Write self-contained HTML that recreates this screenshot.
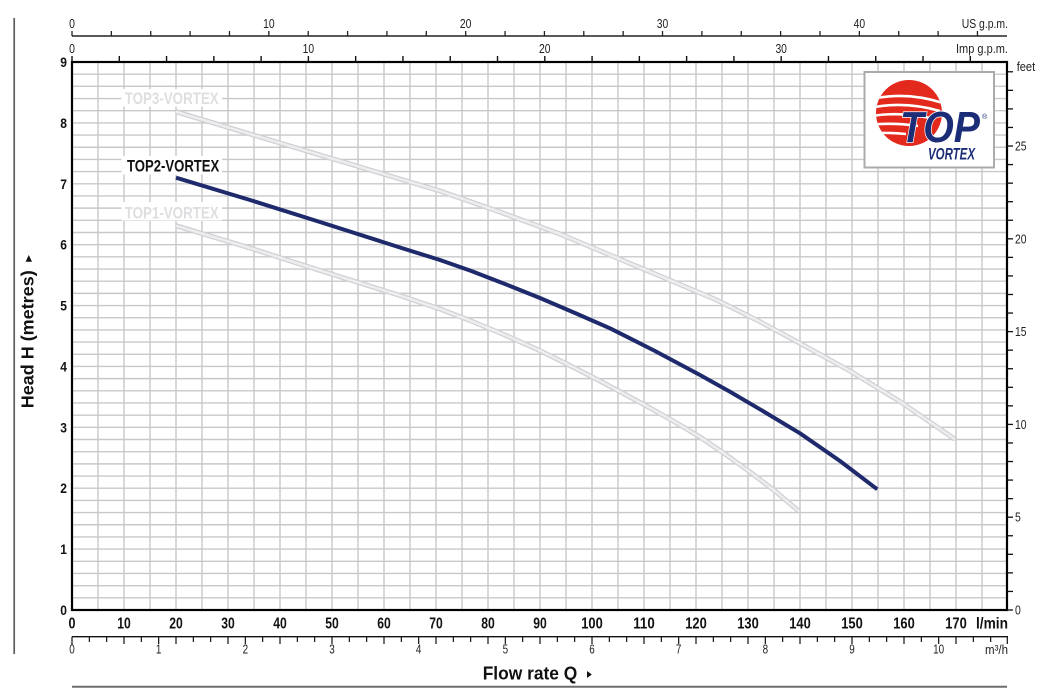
<!DOCTYPE html>
<html>
<head>
<meta charset="utf-8">
<style>
html,body{margin:0;padding:0;background:#fff;}
svg{display:block;}
text{font-family:"Liberation Sans",sans-serif;}
</style>
</head>
<body>
<svg width="1051" height="698" viewBox="0 0 1051 698" xmlns="http://www.w3.org/2000/svg">
<rect width="1051" height="698" fill="#fff"/>

<!-- left gray bar -->
<line x1="14.2" y1="18" x2="14.2" y2="654" stroke="#5e5e5e" stroke-width="1.7"/>

<!-- grid -->
<g stroke="#c8c8c8" stroke-width="1.4">
<line x1="98" y1="62" x2="98" y2="610"/><line x1="124" y1="62" x2="124" y2="610"/><line x1="150" y1="62" x2="150" y2="610"/><line x1="176" y1="62" x2="176" y2="610"/><line x1="202" y1="62" x2="202" y2="610"/><line x1="228" y1="62" x2="228" y2="610"/><line x1="254" y1="62" x2="254" y2="610"/><line x1="280" y1="62" x2="280" y2="610"/><line x1="306" y1="62" x2="306" y2="610"/><line x1="332" y1="62" x2="332" y2="610"/><line x1="358" y1="62" x2="358" y2="610"/><line x1="384" y1="62" x2="384" y2="610"/><line x1="410" y1="62" x2="410" y2="610"/><line x1="436" y1="62" x2="436" y2="610"/><line x1="462" y1="62" x2="462" y2="610"/><line x1="488" y1="62" x2="488" y2="610"/><line x1="514" y1="62" x2="514" y2="610"/><line x1="540" y1="62" x2="540" y2="610"/><line x1="566" y1="62" x2="566" y2="610"/><line x1="592" y1="62" x2="592" y2="610"/><line x1="618" y1="62" x2="618" y2="610"/><line x1="644" y1="62" x2="644" y2="610"/><line x1="670" y1="62" x2="670" y2="610"/><line x1="696" y1="62" x2="696" y2="610"/><line x1="722" y1="62" x2="722" y2="610"/><line x1="748" y1="62" x2="748" y2="610"/><line x1="774" y1="62" x2="774" y2="610"/><line x1="800" y1="62" x2="800" y2="610"/><line x1="826" y1="62" x2="826" y2="610"/><line x1="852" y1="62" x2="852" y2="610"/><line x1="878" y1="62" x2="878" y2="610"/><line x1="904" y1="62" x2="904" y2="610"/><line x1="930" y1="62" x2="930" y2="610"/><line x1="956" y1="62" x2="956" y2="610"/><line x1="982" y1="62" x2="982" y2="610"/>
<line x1="72" y1="597.82" x2="1007" y2="597.82"/><line x1="72" y1="585.64" x2="1007" y2="585.64"/><line x1="72" y1="573.47" x2="1007" y2="573.47"/><line x1="72" y1="561.29" x2="1007" y2="561.29"/><line x1="72" y1="549.11" x2="1007" y2="549.11"/><line x1="72" y1="536.93" x2="1007" y2="536.93"/><line x1="72" y1="524.76" x2="1007" y2="524.76"/><line x1="72" y1="512.58" x2="1007" y2="512.58"/><line x1="72" y1="500.40" x2="1007" y2="500.40"/><line x1="72" y1="488.22" x2="1007" y2="488.22"/><line x1="72" y1="476.04" x2="1007" y2="476.04"/><line x1="72" y1="463.87" x2="1007" y2="463.87"/><line x1="72" y1="451.69" x2="1007" y2="451.69"/><line x1="72" y1="439.51" x2="1007" y2="439.51"/><line x1="72" y1="427.33" x2="1007" y2="427.33"/><line x1="72" y1="415.16" x2="1007" y2="415.16"/><line x1="72" y1="402.98" x2="1007" y2="402.98"/><line x1="72" y1="390.80" x2="1007" y2="390.80"/><line x1="72" y1="378.62" x2="1007" y2="378.62"/><line x1="72" y1="366.44" x2="1007" y2="366.44"/><line x1="72" y1="354.27" x2="1007" y2="354.27"/><line x1="72" y1="342.09" x2="1007" y2="342.09"/><line x1="72" y1="329.91" x2="1007" y2="329.91"/><line x1="72" y1="317.73" x2="1007" y2="317.73"/><line x1="72" y1="305.56" x2="1007" y2="305.56"/><line x1="72" y1="293.38" x2="1007" y2="293.38"/><line x1="72" y1="281.20" x2="1007" y2="281.20"/><line x1="72" y1="269.02" x2="1007" y2="269.02"/><line x1="72" y1="256.84" x2="1007" y2="256.84"/><line x1="72" y1="244.67" x2="1007" y2="244.67"/><line x1="72" y1="232.49" x2="1007" y2="232.49"/><line x1="72" y1="220.31" x2="1007" y2="220.31"/><line x1="72" y1="208.13" x2="1007" y2="208.13"/><line x1="72" y1="195.96" x2="1007" y2="195.96"/><line x1="72" y1="183.78" x2="1007" y2="183.78"/><line x1="72" y1="171.60" x2="1007" y2="171.60"/><line x1="72" y1="159.42" x2="1007" y2="159.42"/><line x1="72" y1="147.24" x2="1007" y2="147.24"/><line x1="72" y1="135.07" x2="1007" y2="135.07"/><line x1="72" y1="122.89" x2="1007" y2="122.89"/><line x1="72" y1="110.71" x2="1007" y2="110.71"/><line x1="72" y1="98.53" x2="1007" y2="98.53"/><line x1="72" y1="86.36" x2="1007" y2="86.36"/><line x1="72" y1="74.18" x2="1007" y2="74.18"/>
</g>

<!-- label backgrounds -->
<rect x="121.5" y="89" width="100.5" height="17.5" fill="#fff"/>
<rect x="121.5" y="156" width="100.5" height="18.5" fill="#fff"/>
<rect x="121.5" y="202" width="100.5" height="18.5" fill="#fff"/>

<!-- curve labels -->
<text x="124.7" y="104" font-size="17" font-weight="bold" fill="#dedee0" textLength="94" lengthAdjust="spacingAndGlyphs">TOP3-VORTEX</text>
<text x="127" y="171.7" font-size="17" font-weight="bold" fill="#111" textLength="92.3" lengthAdjust="spacingAndGlyphs">TOP2-VORTEX</text>
<text x="124.7" y="218.3" font-size="17" font-weight="bold" fill="#dedee0" textLength="94" lengthAdjust="spacingAndGlyphs">TOP1-VORTEX</text>

<!-- curves -->
<g fill="none" stroke-linejoin="round">
<polyline stroke="#cfcfd4" stroke-width="5" points="176,111.7 270,140 370,170 440,191 500,212 560,234 610,255 660,276 716.7,300 760,321.7 800,343.3 850,371 900,401.5 955,439.3"/>
<polyline stroke="#ededf0" stroke-width="2.6" points="176,111.7 270,140 370,170 440,191 500,212 560,234 610,255 660,276 716.7,300 760,321.7 800,343.3 850,371 900,401.5 955,439.3"/>
<polyline stroke="#cfcfd4" stroke-width="5" points="176,225.7 250,248 320,270.5 400,295.5 440,309 470,320.5 505,335 540,350.7 570,365.5 600,381 643,404 675,422 700,437 725,454 750,472 775,491 798.3,510.7"/>
<polyline stroke="#ededf0" stroke-width="2.6" points="176,225.7 250,248 320,270.5 400,295.5 440,309 470,320.5 505,335 540,350.7 570,365.5 600,381 643,404 675,422 700,437 725,454 750,472 775,491 798.3,510.7"/>
<polyline stroke="#1e2a6b" stroke-width="4" points="176,177.7 250,200 320,222 400,247.5 440,260 470,270.5 505,284 540,298 575,313 610,328.3 655,351 700,375 730,391.8 760,409.3 800,433.3 840,461 877.3,489.3"/>
</g>

<!-- logo -->
<rect x="864.5" y="72" width="129.5" height="95.5" fill="#fff" stroke="#ababab" stroke-width="2"/>
<defs><clipPath id="cc"><circle cx="909" cy="113" r="33"/></clipPath></defs>
<circle cx="909" cy="113" r="33" fill="#e3281c"/>
<g clip-path="url(#cc)" fill="none" stroke="#fff" stroke-width="2.6">
<path d="M872,99 Q908,91 946,104"/>
<path d="M872,107.5 Q905,101 940,111"/>
<path d="M872,116 Q900,111.5 930,118"/>
<path d="M873,124.5 Q895,122.5 918,126"/>
<path d="M874,133 Q890,132.5 906,134"/>
</g>
<text x="900" y="142" font-size="44" font-weight="bold" font-style="italic" fill="#1c2d78" stroke="#fff" stroke-width="1.5" paint-order="stroke" textLength="80" lengthAdjust="spacingAndGlyphs">TOP</text>
<text x="928" y="159.7" font-size="17" font-weight="bold" font-style="italic" fill="#1c2d78" textLength="47" lengthAdjust="spacingAndGlyphs">VORTEX</text>
<text x="982" y="119" font-size="7" fill="#1c2d78">®</text>

<!-- plot border -->
<rect x="72" y="62" width="935" height="548" fill="none" stroke="#000" stroke-width="2.2"/>

<!-- top US gpm axis -->
<line x1="72" y1="36" x2="1007" y2="36" stroke="#222" stroke-width="1.4"/>
<g stroke="#222" stroke-width="1.3">
<line x1="72" y1="36" x2="72" y2="31"/><line x1="111.37" y1="36" x2="111.37" y2="31"/><line x1="150.74" y1="36" x2="150.74" y2="31"/><line x1="190.10" y1="36" x2="190.10" y2="31"/><line x1="229.47" y1="36" x2="229.47" y2="31"/><line x1="268.84" y1="36" x2="268.84" y2="31"/><line x1="308.21" y1="36" x2="308.21" y2="31"/><line x1="347.58" y1="36" x2="347.58" y2="31"/><line x1="386.94" y1="36" x2="386.94" y2="31"/><line x1="426.31" y1="36" x2="426.31" y2="31"/><line x1="465.68" y1="36" x2="465.68" y2="31"/><line x1="505.05" y1="36" x2="505.05" y2="31"/><line x1="544.42" y1="36" x2="544.42" y2="31"/><line x1="583.78" y1="36" x2="583.78" y2="31"/><line x1="623.15" y1="36" x2="623.15" y2="31"/><line x1="662.52" y1="36" x2="662.52" y2="31"/><line x1="701.89" y1="36" x2="701.89" y2="31"/><line x1="741.26" y1="36" x2="741.26" y2="31"/><line x1="780.62" y1="36" x2="780.62" y2="31"/><line x1="819.99" y1="36" x2="819.99" y2="31"/><line x1="859.36" y1="36" x2="859.36" y2="31"/><line x1="898.73" y1="36" x2="898.73" y2="31"/><line x1="938.10" y1="36" x2="938.10" y2="31"/><line x1="977.46" y1="36" x2="977.46" y2="31"/>
</g>
<g font-size="13" fill="#222" text-anchor="middle">
<text x="72" y="28" textLength="5.8" lengthAdjust="spacingAndGlyphs">0</text>
<text x="268.84" y="28" textLength="11.5" lengthAdjust="spacingAndGlyphs">10</text>
<text x="465.68" y="28" textLength="11.5" lengthAdjust="spacingAndGlyphs">20</text>
<text x="662.52" y="28" textLength="11.5" lengthAdjust="spacingAndGlyphs">30</text>
<text x="859.36" y="28" textLength="11.5" lengthAdjust="spacingAndGlyphs">40</text>
</g>
<text x="961.7" y="28" font-size="13" fill="#222" textLength="46.3" lengthAdjust="spacingAndGlyphs">US g.p.m.</text>

<!-- Imp gpm ticks on top border -->
<g stroke="#111" stroke-width="1.4">
<line x1="72" y1="62" x2="72" y2="56"/><line x1="119.28" y1="62" x2="119.28" y2="56"/><line x1="166.56" y1="62" x2="166.56" y2="56"/><line x1="213.84" y1="62" x2="213.84" y2="56"/><line x1="261.12" y1="62" x2="261.12" y2="56"/><line x1="308.40" y1="62" x2="308.40" y2="56"/><line x1="355.67" y1="62" x2="355.67" y2="56"/><line x1="402.95" y1="62" x2="402.95" y2="56"/><line x1="450.23" y1="62" x2="450.23" y2="56"/><line x1="497.51" y1="62" x2="497.51" y2="56"/><line x1="544.79" y1="62" x2="544.79" y2="56"/><line x1="592.07" y1="62" x2="592.07" y2="56"/><line x1="639.35" y1="62" x2="639.35" y2="56"/><line x1="686.63" y1="62" x2="686.63" y2="56"/><line x1="733.91" y1="62" x2="733.91" y2="56"/><line x1="781.19" y1="62" x2="781.19" y2="56"/><line x1="828.47" y1="62" x2="828.47" y2="56"/><line x1="875.74" y1="62" x2="875.74" y2="56"/><line x1="923.02" y1="62" x2="923.02" y2="56"/><line x1="970.30" y1="62" x2="970.30" y2="56"/>
</g>
<g font-size="13" fill="#222" text-anchor="middle">
<text x="72" y="53" textLength="5.8" lengthAdjust="spacingAndGlyphs">0</text>
<text x="308.40" y="53" textLength="11.5" lengthAdjust="spacingAndGlyphs">10</text>
<text x="544.79" y="53" textLength="11.5" lengthAdjust="spacingAndGlyphs">20</text>
<text x="781.19" y="53" textLength="11.5" lengthAdjust="spacingAndGlyphs">30</text>
</g>
<text x="956" y="53" font-size="13" fill="#222" textLength="52" lengthAdjust="spacingAndGlyphs">Imp g.p.m.</text>

<!-- Y labels (metres) -->
<g font-size="14" font-weight="bold" fill="#111" text-anchor="end">
<text x="67" y="615" textLength="6.7" lengthAdjust="spacingAndGlyphs">0</text>
<text x="67" y="554.1" textLength="6.7" lengthAdjust="spacingAndGlyphs">1</text>
<text x="67" y="493.2" textLength="6.7" lengthAdjust="spacingAndGlyphs">2</text>
<text x="67" y="432.3" textLength="6.7" lengthAdjust="spacingAndGlyphs">3</text>
<text x="67" y="371.4" textLength="6.7" lengthAdjust="spacingAndGlyphs">4</text>
<text x="67" y="310.6" textLength="6.7" lengthAdjust="spacingAndGlyphs">5</text>
<text x="67" y="249.7" textLength="6.7" lengthAdjust="spacingAndGlyphs">6</text>
<text x="67" y="188.8" textLength="6.7" lengthAdjust="spacingAndGlyphs">7</text>
<text x="67" y="127.9" textLength="6.7" lengthAdjust="spacingAndGlyphs">8</text>
<text x="67" y="67" textLength="6.7" lengthAdjust="spacingAndGlyphs">9</text>
</g>

<!-- right feet axis -->
<g stroke="#111" stroke-width="1.3">
<line x1="1007" y1="610" x2="1013" y2="610"/><line x1="1007" y1="591.44" x2="1013" y2="591.44"/><line x1="1007" y1="572.88" x2="1013" y2="572.88"/><line x1="1007" y1="554.32" x2="1013" y2="554.32"/><line x1="1007" y1="535.76" x2="1013" y2="535.76"/><line x1="1007" y1="517.20" x2="1013" y2="517.20"/><line x1="1007" y1="498.64" x2="1013" y2="498.64"/><line x1="1007" y1="480.08" x2="1013" y2="480.08"/><line x1="1007" y1="461.53" x2="1013" y2="461.53"/><line x1="1007" y1="442.97" x2="1013" y2="442.97"/><line x1="1007" y1="424.41" x2="1013" y2="424.41"/><line x1="1007" y1="405.85" x2="1013" y2="405.85"/><line x1="1007" y1="387.29" x2="1013" y2="387.29"/><line x1="1007" y1="368.73" x2="1013" y2="368.73"/><line x1="1007" y1="350.17" x2="1013" y2="350.17"/><line x1="1007" y1="331.61" x2="1013" y2="331.61"/><line x1="1007" y1="313.05" x2="1013" y2="313.05"/><line x1="1007" y1="294.49" x2="1013" y2="294.49"/><line x1="1007" y1="275.93" x2="1013" y2="275.93"/><line x1="1007" y1="257.37" x2="1013" y2="257.37"/><line x1="1007" y1="238.81" x2="1013" y2="238.81"/><line x1="1007" y1="220.25" x2="1013" y2="220.25"/><line x1="1007" y1="201.70" x2="1013" y2="201.70"/><line x1="1007" y1="183.14" x2="1013" y2="183.14"/><line x1="1007" y1="164.58" x2="1013" y2="164.58"/><line x1="1007" y1="146.02" x2="1013" y2="146.02"/><line x1="1007" y1="127.46" x2="1013" y2="127.46"/><line x1="1007" y1="108.90" x2="1013" y2="108.90"/><line x1="1007" y1="90.34" x2="1013" y2="90.34"/><line x1="1007" y1="71.78" x2="1013" y2="71.78"/>
</g>
<g font-size="12.5" fill="#222">
<text x="1015" y="614.5" textLength="5.8" lengthAdjust="spacingAndGlyphs">0</text>
<text x="1015" y="521.7" textLength="5.8" lengthAdjust="spacingAndGlyphs">5</text>
<text x="1015" y="428.9" textLength="11.5" lengthAdjust="spacingAndGlyphs">10</text>
<text x="1015" y="336.1" textLength="11.5" lengthAdjust="spacingAndGlyphs">15</text>
<text x="1015" y="243.3" textLength="11.5" lengthAdjust="spacingAndGlyphs">20</text>
<text x="1015" y="150.5" textLength="11.5" lengthAdjust="spacingAndGlyphs">25</text>
<text x="1016.7" y="71" textLength="18.5" lengthAdjust="spacingAndGlyphs">feet</text>
</g>

<!-- X labels l/min -->
<g font-size="16" font-weight="bold" fill="#111" text-anchor="middle">
<text x="72" y="628.3" textLength="7" lengthAdjust="spacingAndGlyphs">0</text>
<text x="124" y="628.3" textLength="13.5" lengthAdjust="spacingAndGlyphs">10</text>
<text x="176" y="628.3" textLength="13.5" lengthAdjust="spacingAndGlyphs">20</text>
<text x="228" y="628.3" textLength="13.5" lengthAdjust="spacingAndGlyphs">30</text>
<text x="280" y="628.3" textLength="13.5" lengthAdjust="spacingAndGlyphs">40</text>
<text x="332" y="628.3" textLength="13.5" lengthAdjust="spacingAndGlyphs">50</text>
<text x="384" y="628.3" textLength="13.5" lengthAdjust="spacingAndGlyphs">60</text>
<text x="436" y="628.3" textLength="13.5" lengthAdjust="spacingAndGlyphs">70</text>
<text x="488" y="628.3" textLength="13.5" lengthAdjust="spacingAndGlyphs">80</text>
<text x="540" y="628.3" textLength="13.5" lengthAdjust="spacingAndGlyphs">90</text>
<text x="592" y="628.3" textLength="21.5" lengthAdjust="spacingAndGlyphs">100</text>
<text x="644" y="628.3" textLength="21.5" lengthAdjust="spacingAndGlyphs">110</text>
<text x="696" y="628.3" textLength="21.5" lengthAdjust="spacingAndGlyphs">120</text>
<text x="748" y="628.3" textLength="21.5" lengthAdjust="spacingAndGlyphs">130</text>
<text x="800" y="628.3" textLength="21.5" lengthAdjust="spacingAndGlyphs">140</text>
<text x="852" y="628.3" textLength="21.5" lengthAdjust="spacingAndGlyphs">150</text>
<text x="904" y="628.3" textLength="21.5" lengthAdjust="spacingAndGlyphs">160</text>
<text x="956" y="628.3" textLength="21.5" lengthAdjust="spacingAndGlyphs">170</text>
</g>
<text x="976" y="628.3" font-size="16" font-weight="bold" fill="#111" textLength="32" lengthAdjust="spacingAndGlyphs">l/min</text>

<!-- m3/h axis -->
<line x1="72" y1="636.7" x2="1008" y2="636.7" stroke="#111" stroke-width="1.4"/>
<g stroke="#111" stroke-width="1.2">
<line x1="72" y1="636.7" x2="72" y2="645"/><line x1="89.33" y1="636.7" x2="89.33" y2="642"/><line x1="106.67" y1="636.7" x2="106.67" y2="642"/><line x1="124" y1="636.7" x2="124" y2="644"/><line x1="141.33" y1="636.7" x2="141.33" y2="642"/><line x1="158.67" y1="636.7" x2="158.67" y2="644"/><line x1="176" y1="636.7" x2="176" y2="644"/><line x1="193.33" y1="636.7" x2="193.33" y2="642"/><line x1="210.67" y1="636.7" x2="210.67" y2="642"/><line x1="228" y1="636.7" x2="228" y2="644"/><line x1="245.33" y1="636.7" x2="245.33" y2="644"/><line x1="262.67" y1="636.7" x2="262.67" y2="642"/><line x1="280" y1="636.7" x2="280" y2="644"/><line x1="297.33" y1="636.7" x2="297.33" y2="642"/><line x1="314.67" y1="636.7" x2="314.67" y2="642"/><line x1="332" y1="636.7" x2="332" y2="644"/><line x1="349.33" y1="636.7" x2="349.33" y2="642"/><line x1="366.67" y1="636.7" x2="366.67" y2="642"/><line x1="384" y1="636.7" x2="384" y2="644"/><line x1="401.33" y1="636.7" x2="401.33" y2="642"/><line x1="418.67" y1="636.7" x2="418.67" y2="644"/><line x1="436" y1="636.7" x2="436" y2="644"/><line x1="453.33" y1="636.7" x2="453.33" y2="642"/><line x1="470.67" y1="636.7" x2="470.67" y2="642"/><line x1="488" y1="636.7" x2="488" y2="644"/><line x1="505.33" y1="636.7" x2="505.33" y2="644"/><line x1="522.67" y1="636.7" x2="522.67" y2="642"/><line x1="540" y1="636.7" x2="540" y2="644"/><line x1="557.33" y1="636.7" x2="557.33" y2="642"/><line x1="574.67" y1="636.7" x2="574.67" y2="642"/><line x1="592" y1="636.7" x2="592" y2="644"/><line x1="609.33" y1="636.7" x2="609.33" y2="642"/><line x1="626.67" y1="636.7" x2="626.67" y2="642"/><line x1="644" y1="636.7" x2="644" y2="644"/><line x1="661.33" y1="636.7" x2="661.33" y2="642"/><line x1="678.67" y1="636.7" x2="678.67" y2="644"/><line x1="696" y1="636.7" x2="696" y2="644"/><line x1="713.33" y1="636.7" x2="713.33" y2="642"/><line x1="730.67" y1="636.7" x2="730.67" y2="642"/><line x1="748" y1="636.7" x2="748" y2="644"/><line x1="765.33" y1="636.7" x2="765.33" y2="644"/><line x1="782.67" y1="636.7" x2="782.67" y2="642"/><line x1="800" y1="636.7" x2="800" y2="644"/><line x1="817.33" y1="636.7" x2="817.33" y2="642"/><line x1="834.67" y1="636.7" x2="834.67" y2="642"/><line x1="852" y1="636.7" x2="852" y2="644"/><line x1="869.33" y1="636.7" x2="869.33" y2="642"/><line x1="886.67" y1="636.7" x2="886.67" y2="642"/><line x1="904" y1="636.7" x2="904" y2="644"/><line x1="921.33" y1="636.7" x2="921.33" y2="642"/><line x1="938.67" y1="636.7" x2="938.67" y2="644"/><line x1="956" y1="636.7" x2="956" y2="644"/><line x1="973.33" y1="636.7" x2="973.33" y2="642"/><line x1="990.67" y1="636.7" x2="990.67" y2="642"/><line x1="1007.3" y1="636.7" x2="1007.3" y2="644"/>
</g>
<g font-size="13" fill="#222" text-anchor="middle">
<text x="72" y="653.5" textLength="5.5" lengthAdjust="spacingAndGlyphs">0</text>
<text x="158.67" y="653.5" textLength="5.5" lengthAdjust="spacingAndGlyphs">1</text>
<text x="245.33" y="653.5" textLength="5.5" lengthAdjust="spacingAndGlyphs">2</text>
<text x="332" y="653.5" textLength="5.5" lengthAdjust="spacingAndGlyphs">3</text>
<text x="418.67" y="653.5" textLength="5.5" lengthAdjust="spacingAndGlyphs">4</text>
<text x="505.33" y="653.5" textLength="5.5" lengthAdjust="spacingAndGlyphs">5</text>
<text x="592" y="653.5" textLength="5.5" lengthAdjust="spacingAndGlyphs">6</text>
<text x="678.67" y="653.5" textLength="5.5" lengthAdjust="spacingAndGlyphs">7</text>
<text x="765.33" y="653.5" textLength="5.5" lengthAdjust="spacingAndGlyphs">8</text>
<text x="852" y="653.5" textLength="5.5" lengthAdjust="spacingAndGlyphs">9</text>
<text x="938.67" y="653.5" textLength="11" lengthAdjust="spacingAndGlyphs">10</text>
</g>
<text x="985" y="654" font-size="13" fill="#222" textLength="23" lengthAdjust="spacingAndGlyphs">m³/h</text>

<!-- bottom gray line -->
<line x1="72" y1="686.7" x2="1007" y2="686.7" stroke="#6e6e6e" stroke-width="2"/>

<!-- axis titles -->
<text x="482.7" y="679.3" font-size="18" font-weight="bold" fill="#111" textLength="94.6" lengthAdjust="spacingAndGlyphs">Flow rate Q</text>
<polygon points="587,671 587,678 591.8,674.5" fill="#111"/>
<text transform="translate(33.5,408.3) rotate(-90)" x="0" y="0" font-size="17.5" font-weight="bold" fill="#111" textLength="138" lengthAdjust="spacingAndGlyphs">Head H (metres)</text>
<polygon points="28.8,255 25.6,261.7 32,261.7" fill="#111"/>
</svg>
</body>
</html>
